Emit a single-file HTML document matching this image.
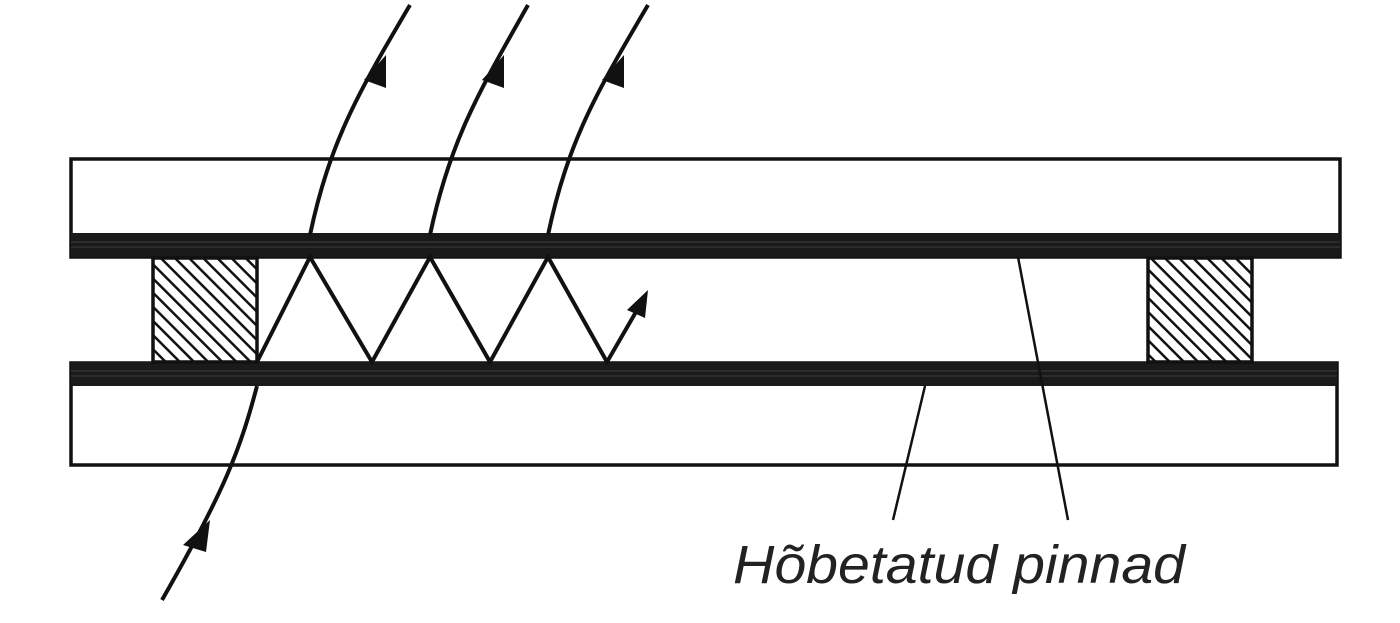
<!DOCTYPE html>
<html><head><style>body{margin:0;background:#fff}</style></head><body>
<svg width="1400" height="618" viewBox="0 0 1400 618" xmlns="http://www.w3.org/2000/svg">
<defs>
<pattern id="h" patternUnits="userSpaceOnUse" width="10" height="10" patternTransform="rotate(-45)">
<rect width="10" height="10" fill="#fff"/><rect x="0" y="0" width="2.5" height="10" fill="#111"/>
</pattern>
</defs>
<g stroke="#111" fill="none" stroke-width="3.5">
<rect x="71" y="159" width="1269" height="98" fill="#fff"/>
<rect x="71" y="363" width="1266" height="102" fill="#fff"/>
</g>
<rect x="71" y="233" width="1269" height="24" fill="#1a1a1a"/>
<rect x="71" y="362" width="1266" height="24" fill="#1a1a1a"/>
<g stroke="#555" stroke-width="1" opacity="0.6">
<line x1="71" y1="242" x2="1340" y2="242"/><line x1="71" y1="247" x2="1340" y2="247"/>
<line x1="71" y1="371" x2="1337" y2="371"/><line x1="71" y1="376" x2="1337" y2="376"/>
</g>
<rect x="153" y="258" width="104" height="104" fill="url(#h)" stroke="#111" stroke-width="3.5"/>
<rect x="1148" y="258" width="104" height="104" fill="url(#h)" stroke="#111" stroke-width="3.5"/>
<g stroke="#111" fill="none" stroke-width="4">
<polyline points="257,362 310,257 372,362 430,257 490,362 548,257 607,362 640,305"/>
<path d="M310,235 C330,140 360,90 410,5"/>
<path d="M430,235 C450,140 480,90 528,5"/>
<path d="M548,235 C568,140 598,90 648,5"/>
<path d="M257,386 C240,450 225,490 162,600"/>
<line x1="1018" y1="257" x2="1068" y2="520" stroke-width="2.5"/>
<line x1="925" y1="386" x2="893" y2="520" stroke-width="2.5"/>
</g>
<g fill="#111">
<polygon points="648,290 627,310 645,318"/>
<polygon points="386,55 364,80 386,88"/>
<polygon points="504,55 482,80 504,88"/>
<polygon points="624,55 602,80 624,88"/>
<polygon points="210,520 183,545 206,552"/>
</g>
<text x="733" y="583" font-family="Liberation Sans, sans-serif" font-style="italic" font-size="54" fill="#222" textLength="452" lengthAdjust="spacingAndGlyphs">Hõbetatud pinnad</text>
</svg>
</body></html>
